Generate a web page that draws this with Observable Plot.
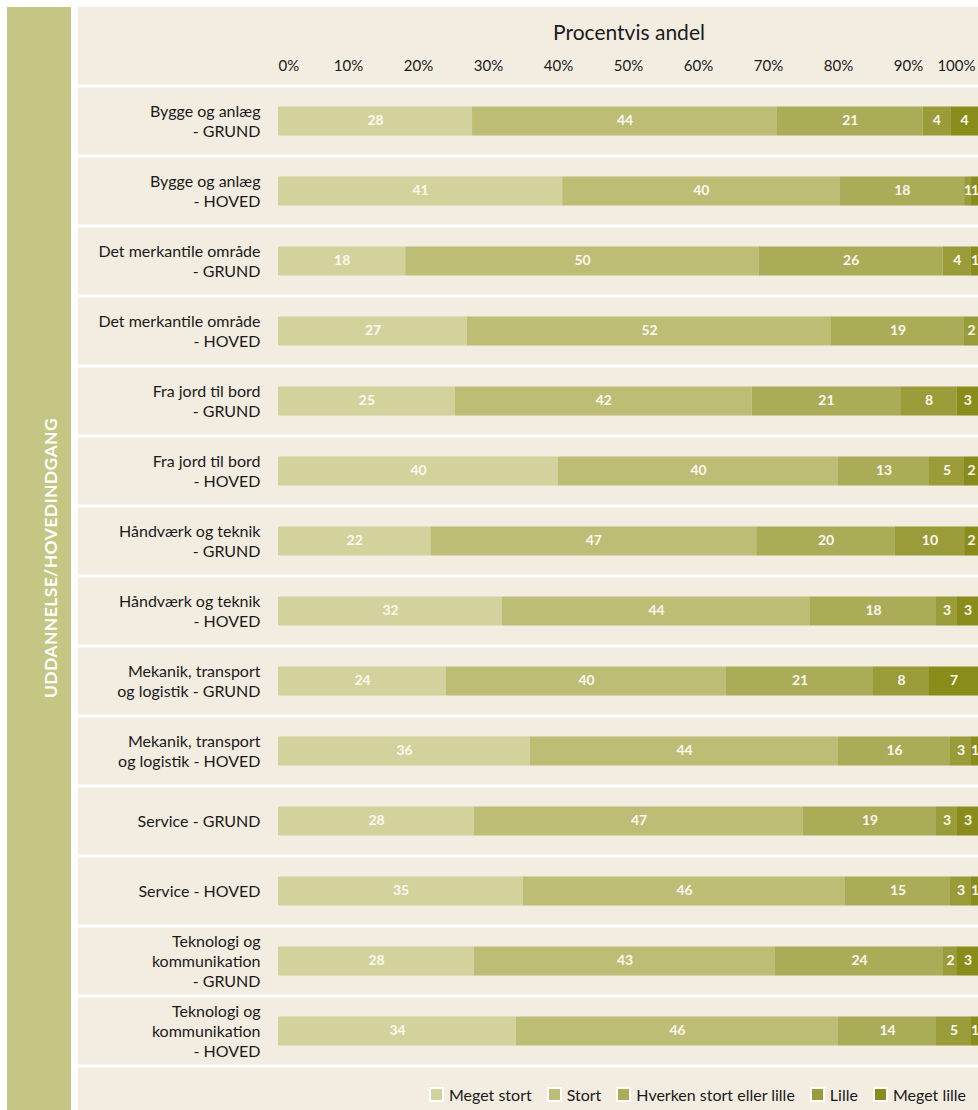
<!DOCTYPE html>
<html><head><meta charset="utf-8">
<script src="https://cdn.jsdelivr.net/npm/d3@7"></script>
<script src="https://cdn.jsdelivr.net/npm/@observablehq/plot@0.6"></script>
<style>
body{margin:0;background:#fff;font-family:Lato,"Open Sans",sans-serif;}
#wrap{position:relative;width:978px;height:1110px;overflow:hidden;}
#strip{position:absolute;left:7px;top:7px;width:64px;height:1103px;background:#c5c584;}
#strip span{position:absolute;left:43px;top:551px;transform:translate(-50%,-50%) rotate(-90deg);white-space:nowrap;color:#fff;font-weight:bold;font-size:17.5px;letter-spacing:0.4px;}
#panel{position:absolute;left:78px;top:7px;width:900px;height:1103px;background:#f2ede0;}
#title{position:absolute;left:278px;width:702px;top:19px;text-align:center;font-size:21px;color:#1a1a1a;}
#chart{position:absolute;left:0;top:0;}
#legend{position:absolute;right:12px;top:1085px;display:flex;gap:15px;font-size:16px;color:#1a1a1a;}
#legend .it{display:flex;align-items:center;gap:5px;}
#legend .sw{width:15px;height:15px;box-sizing:border-box;border:2px solid #fff;}
</style></head>
<body>
<div id="wrap">
  <div id="strip"><span>UDDANNELSE/HOVEDINDGANG</span></div>
  <div id="panel"></div>
  <div id="title">Procentvis andel</div>
  <div id="chart"></div>
  <div id="legend"></div>
</div>
<script>
const rows = [
  "Bygge og anlæg\n- GRUND",
  "Bygge og anlæg\n- HOVED",
  "Det merkantile område\n- GRUND",
  "Det merkantile område\n- HOVED",
  "Fra jord til bord\n- GRUND",
  "Fra jord til bord\n- HOVED",
  "Håndværk og teknik\n- GRUND",
  "Håndværk og teknik\n- HOVED",
  "Mekanik, transport\nog logistik - GRUND",
  "Mekanik, transport\nog logistik - HOVED",
  "Service - GRUND",
  "Service - HOVED",
  "Teknologi og\nkommunikation\n- GRUND",
  "Teknologi og\nkommunikation\n- HOVED"
];
const categories = ["Meget stort", "Stort", "Hverken stort eller lille", "Lille", "Meget lille"];
const colors = ["#d3d29c", "#bdbd75", "#abac58", "#9a9c39", "#898c1a"];
const megetStort = [28, 41, 18, 27, 25, 40, 22, 32, 24, 36, 28, 35, 28, 34];
const stort      = [44, 40, 50, 52, 42, 40, 47, 44, 40, 44, 47, 46, 43, 46];
const hverken    = [21, 18, 26, 19, 21, 13, 20, 18, 21, 16, 19, 15, 24, 14];
const lille      = [4, 1, 4, 2, 8, 5, 10, 3, 8, 3, 3, 3, 2, 5];
const megetLille = [4, 1, 1, 0, 3, 2, 2, 3, 7, 1, 3, 1, 3, 1];
const xTicks = [0, 10, 20, 30, 40, 50, 60, 70, 80, 90, 100];

const series = [megetStort, stort, hverken, lille, megetLille];
const data = [];
rows.forEach((r, i) => categories.forEach((c, j) => data.push({row: r, cat: c, value: series[j][i]})));

const tickStyle = {x: d => d / 100, text: d => d + "%", frameAnchor: "top", dy: -25, fontSize: 15, fill: "#1a1a1a"};

const chart = Plot.plot({
  width: 978, height: 1110,
  marginLeft: 278, marginRight: 0, marginTop: 85, marginBottom: 44,
  style: {background: "transparent", fontFamily: "Lato, 'Open Sans', sans-serif", overflow: "visible"},
  x: {domain: [0, 1], axis: null},
  y: {domain: rows, axis: null, padding: 0},
  color: {domain: categories, range: colors},
  marks: [
    Plot.barX(data, Plot.stackX({x: "value", y: "row", fill: "cat", order: categories, offset: "normalize", insetTop: 20.5, insetBottom: 20.5})),
    Plot.text(data, Plot.stackX({x: "value", y: "row", z: "cat", order: categories, offset: "normalize",
      text: d => d.value > 0 ? String(d.value) : "", fill: "#fbf9f0", fontSize: 14, fontWeight: "bold", dy: -1})),
    Plot.text(rows, {y: d => d, text: d => d, frameAnchor: "left", textAnchor: "end", dx: -18, dy: -1, fontSize: 16, lineHeight: 1.25, fill: "#1a1a1a"}),
    Plot.text(xTicks, {...tickStyle, textAnchor: "middle", filter: d => d > 0 && d < 100}),
    Plot.text(xTicks, {...tickStyle, textAnchor: "start", filter: d => d === 0}),
    Plot.text(xTicks, {...tickStyle, textAnchor: "end", dx: -3, filter: d => d === 100})
  ]
});
document.getElementById("chart").appendChild(chart);

// row separators from the y scale
const ys = chart.scale("y");
const bounds = rows.map(r => ys.apply(r));
bounds.push(ys.apply(rows[rows.length - 1]) + ys.bandwidth);
d3.select(chart).insert("g", ":first-child")
  .selectAll("line").data(bounds).join("line")
  .attr("x1", 78).attr("x2", 978)
  .attr("y1", d => d).attr("y2", d => d)
  .attr("stroke", "#fff").attr("stroke-width", 3);

// legend
const cs = chart.scale("color");
const lg = d3.select("#legend");
categories.forEach(c => {
  const it = lg.append("div").attr("class", "it");
  it.append("div").attr("class", "sw").style("background", cs.apply(c));
  it.append("span").text(c);
});
</script>
</body></html>
